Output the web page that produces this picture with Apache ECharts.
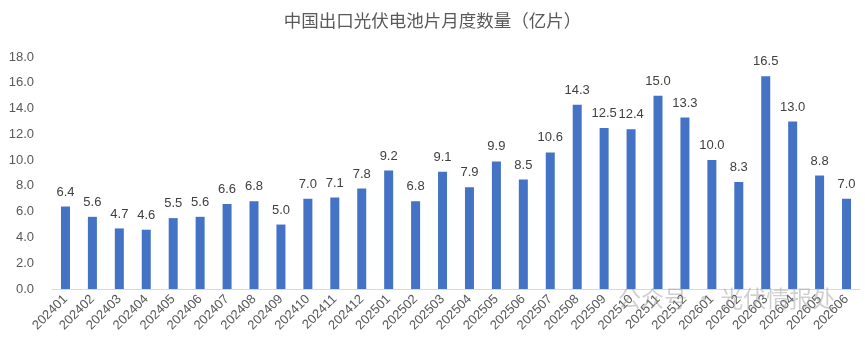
<!DOCTYPE html>
<html><head><meta charset="utf-8">
<script src="https://cdn.jsdelivr.net/npm/echarts@6/dist/echarts.min.js"></script>
<style>html,body{margin:0;padding:0;background:#fff}#c{width:865px;height:345px}</style>
</head><body><div id="c"></div>
<script>
const categories = ['202401','202402','202403','202404','202405','202406','202407','202408','202409','202410','202411','202412','202501','202502','202503','202504','202505','202506','202507','202508','202509','202510','202511','202512','202601','202602','202603','202604','202605','202606'];
const values = [6.4,5.6,4.7,4.6,5.5,5.6,6.6,6.8,5.0,7.0,7.1,7.8,9.2,6.8,9.1,7.9,9.9,8.5,10.6,14.3,12.5,12.4,15.0,13.3,10.0,8.3,16.5,13.0,8.8,7.0];
const titleText = '中国出口光伏电池片月度数量（亿片）';
const chart = echarts.init(document.getElementById('c'));
chart.setOption({
  animation:false,
  backgroundColor:'#fff',
  title:{text:titleText,left:'center',top:7,textStyle:{fontFamily:'Noto Sans CJK SC',fontSize:17.5,fontWeight:'normal',color:'#595959'}},
  graphic:[{type:'text',left:618,top:287,style:{text:'公众号 · 光伏情报处',fontFamily:'Noto Sans CJK SC',fontSize:23,fill:'rgba(150,150,150,0.45)'},z:100}],
  grid:{left:52,right:5,top:57,bottom:56},
  xAxis:{type:'category',data:categories,
    axisLine:{lineStyle:{color:'#d9d9d9'}},axisTick:{show:false},
    axisLabel:{rotate:45,interval:0,color:'#595959',fontSize:13,fontFamily:'Liberation Sans',margin:8}},
  yAxis:{type:'value',min:0,max:18,interval:2,
    splitLine:{show:false},axisLine:{show:false},axisTick:{show:false},
    axisLabel:{formatter:v=>v.toFixed(1),color:'#595959',fontSize:13,fontFamily:'Liberation Sans',margin:18}},
  series:[{type:'bar',data:values,barWidth:9,itemStyle:{color:'#4472c4'},
    label:{show:true,position:'top',distance:8,formatter:p=>p.value.toFixed(1),color:'#404040',fontSize:13,fontFamily:'Liberation Sans'}}]
});
</script></body></html>
